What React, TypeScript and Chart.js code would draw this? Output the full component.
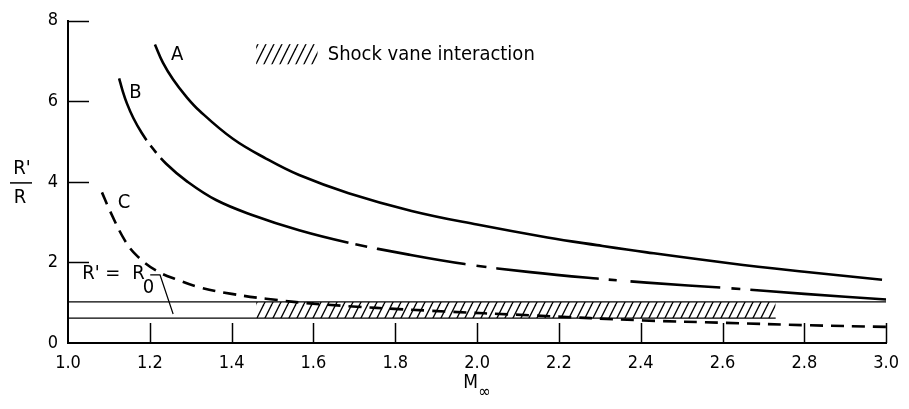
import React, { useEffect, useRef } from "react";
import { Chart, registerables } from "chart.js";

Chart.register(...registerables);

// ---- data ----
const xTicks = [1.0, 1.2, 1.4, 1.6, 1.8, 2.0, 2.2, 2.4, 2.6, 2.8, 3.0];
const yTicks = [0, 2, 4, 6, 8];

const curveAx = [1.2125, 1.232, 1.257, 1.288, 1.322, 1.403, 1.484, 1.565, 1.686, 1.84, 2.0, 2.172, 2.293, 2.415, 2.617, 2.8, 2.99];
const curveAy = [7.41, 6.96, 6.54, 6.13, 5.76, 5.07, 4.58, 4.17, 3.72, 3.28, 2.94, 2.62, 2.43, 2.25, 1.98, 1.77, 1.57];

const curveBx = [1.125, 1.133, 1.144, 1.16, 1.18, 1.205, 1.24, 1.29, 1.362, 1.45, 1.565, 1.686, 1.83, 1.97, 2.13, 2.293, 2.415, 2.617, 2.8, 3.0];
const curveBy = [6.57, 6.28, 5.95, 5.58, 5.22, 4.86, 4.45, 4.02, 3.55, 3.18, 2.8, 2.49, 2.2, 1.96, 1.76, 1.6, 1.5, 1.36, 1.22, 1.08];

const curveCx = [1.083, 1.103, 1.14, 1.17, 1.217, 1.27, 1.322, 1.4, 1.484, 1.62, 1.888, 2.147, 2.407, 2.609, 2.81, 3.0];
const curveCy = [3.74, 3.27, 2.53, 2.15, 1.79, 1.56, 1.38, 1.22, 1.1, 0.96, 0.8, 0.68, 0.56, 0.5, 0.44, 0.4];

const upperLineX = [1.0, 3.0];
const upperLineY = 1.02;
const lowerLineX = [1.0, 2.73];
const lowerLineY = 0.62;
const bandX = [1.46, 2.73];

const curveLabels = ["A", "B", "C"];
const legendText = "Shock vane interaction";

// dash-dot pattern of curve B as drawn (pixel lengths along the path)
const dashB = [68, 7, 9, 7, 209, 7, 12, 10, 90, 11, 10, 10, 103, 10, 8, 14, 90, 11, 9, 10, 300];

const FONT = "'DejaVu Sans Condensed', 'DejaVu Sans', sans-serif";

const pts = (xs: number[], ys: number[]) => xs.map((x, i) => ({ x, y: ys[i] }));
const flat = (xs: number[], y: number) => xs.map((x) => ({ x, y }));

export default function App() {
  const ref = useRef<HTMLCanvasElement>(null);

  useEffect(() => {
    const canvas = ref.current!;
    const tile = document.createElement("canvas");
    tile.width = 8;
    tile.height = 16;
    const t = tile.getContext("2d")!;
    t.strokeStyle = "#000";
    t.lineWidth = 1.4;
    for (const off of [-8, 0, 8]) {
      t.beginPath();
      t.moveTo(off, 16);
      t.lineTo(off + 8, 0);
      t.stroke();
    }
    const hatch = canvas.getContext("2d")!.createPattern(tile, "repeat")!;

    const annot = {
      id: "annot",
      afterDraw(chart: any) {
        const ctx = chart.ctx as CanvasRenderingContext2D;
        const xs = chart.scales.x;
        const ys = chart.scales.y;
        const X = (v: number) => xs.getPixelForValue(v);
        const Y = (v: number) => ys.getPixelForValue(v);
        const area = chart.chartArea;
        ctx.save();
        ctx.strokeStyle = "#000";
        ctx.fillStyle = "#000";
        ctx.lineCap = "butt";
        // inside tick marks
        ctx.lineWidth = 1.5;
        xTicks.forEach((v, i) => {
          if (i === 0) return;
          const px = Math.round(X(v)) + 0.5;
          ctx.beginPath();
          ctx.moveTo(px, area.bottom);
          ctx.lineTo(px, area.bottom - 20);
          ctx.stroke();
        });
        yTicks.forEach((v, i) => {
          if (i === 0) return;
          const py = Math.round(Y(v)) + 0.5;
          ctx.beginPath();
          ctx.moveTo(area.left, py);
          ctx.lineTo(area.left + 21, py);
          ctx.stroke();
        });

        // y-axis title as fraction R'/R
        const fy = Y(4);
        const fx = area.left - 46;
        ctx.font = `20px ${FONT}`;
        ctx.textAlign = "center";
        ctx.textBaseline = "alphabetic";
        ctx.fillText("R'", fx, fy - 8);
        ctx.lineWidth = 1.5;
        ctx.beginPath();
        ctx.moveTo(fx - 12, fy + 1);
        ctx.lineTo(fx + 10, fy + 1);
        ctx.stroke();
        ctx.fillText("R", fx - 2, fy + 21);

        // x-axis title M∞
        const mx = X(2.0);
        ctx.font = `19px ${FONT}`;
        ctx.textAlign = "right";
        ctx.fillText("M", mx + 1, area.bottom + 45);
        ctx.textAlign = "left";
        ctx.font = `17px ${FONT}`;
        ctx.fillText("\u221e", mx + 1, area.bottom + 54);

        // curve labels
        ctx.font = `20px ${FONT}`;
        ctx.textAlign = "center";
        ctx.textBaseline = "middle";
        const labelPos = [
          [1.267, 7.16],
          [1.165, 6.21],
          [1.137, 3.49],
        ];
        curveLabels.forEach((s, i) => ctx.fillText(s, X(labelPos[i][0]), Y(labelPos[i][1])));

        // legend
        const lx0 = X(1.46), lx1 = X(1.61), ly0 = Y(7.42), ly1 = Y(6.92);
        ctx.fillStyle = hatch;
        ctx.fillRect(lx0, ly0, lx1 - lx0, ly1 - ly0);
        ctx.fillStyle = "#000";
        ctx.textAlign = "left";
        ctx.fillText(legendText, X(1.635), Y(7.16));

        // R' = R0 annotation
        ctx.textBaseline = "alphabetic";
        ctx.font = `20px ${FONT}`;
        ctx.fillText("R'", X(1.035), Y(1.6));
        ctx.fillText("=", X(1.091), Y(1.6));
        ctx.fillText("R", X(1.157), Y(1.6));
        ctx.fillText("0", X(1.183), Y(1.25));
        ctx.lineWidth = 1.2;
        ctx.beginPath();
        ctx.moveTo(X(1.201), Y(1.69));
        ctx.lineTo(X(1.225), Y(1.69));
        ctx.lineTo(X(1.257), Y(0.72));
        ctx.stroke();
        ctx.restore();
      },
    };

    const curveBase = {
      showLine: true,
      pointRadius: 0,
      borderColor: "#000",
      borderWidth: 2.6,
      tension: 0.4,
      fill: false,
    };

    const chart = new Chart(canvas, {
      type: "scatter",
      data: {
        datasets: [
          { ...curveBase, data: pts(curveAx, curveAy) },
          { ...curveBase, data: pts(curveBx, curveBy), borderDash: dashB },
          { ...curveBase, data: pts(curveCx, curveCy), borderDash: [13, 8] },
          { ...curveBase, tension: 0, borderWidth: 1.2, data: flat(upperLineX, upperLineY) },
          { ...curveBase, tension: 0, borderWidth: 1.2, data: flat(lowerLineX, lowerLineY) },
          {
            showLine: true,
            pointRadius: 0,
            borderWidth: 0,
            borderColor: "rgba(0,0,0,0)",
            backgroundColor: hatch,
            fill: "+1",
            data: flat(bandX, upperLineY),
          },
          {
            showLine: true,
            pointRadius: 0,
            borderWidth: 0,
            borderColor: "rgba(0,0,0,0)",
            fill: false,
            data: flat(bandX, lowerLineY),
          },
        ],
      },
      options: {
        animation: false,
        responsive: true,
        maintainAspectRatio: false,
        layout: { padding: { top: 18, right: 18, left: 0, bottom: 0 } },
        plugins: { legend: { display: false }, tooltip: { enabled: false } },
        scales: {
          x: {
            type: "linear",
            min: 1.0,
            max: 3.0,
            afterBuildTicks: (s: any) => {
              s.ticks = xTicks.map((v) => ({ value: v }));
            },
            afterFit: (s: any) => {
              s.height = 66;
            },
            grid: { display: false, drawTicks: false },
            border: { display: true, color: "#000", width: 2 },
            ticks: {
              color: "#000",
              padding: 10,
              maxRotation: 0,
              autoSkip: false,
              font: { family: FONT, size: 18 },
              callback: (v: any) => Number(v).toFixed(1),
            },
          },
          y: {
            type: "linear",
            min: 0,
            max: 8,
            afterBuildTicks: (s: any) => {
              s.ticks = yTicks.map((v) => ({ value: v }));
            },
            afterFit: (s: any) => {
              s.width = 68;
            },
            grid: { display: false, drawTicks: false },
            border: { display: true, color: "#000", width: 2 },
            ticks: {
              color: "#000",
              padding: 10,
              font: { family: FONT, size: 18 },
              callback: (v: any) => String(v),
            },
          },
        },
      },
      plugins: [annot],
    });
    return () => chart.destroy();
  }, []);

  return (
    <div style={{ position: "absolute", left: 0, top: 0, width: 909, height: 409, background: "#fff" }}>
      <canvas ref={ref} />
    </div>
  );
}
